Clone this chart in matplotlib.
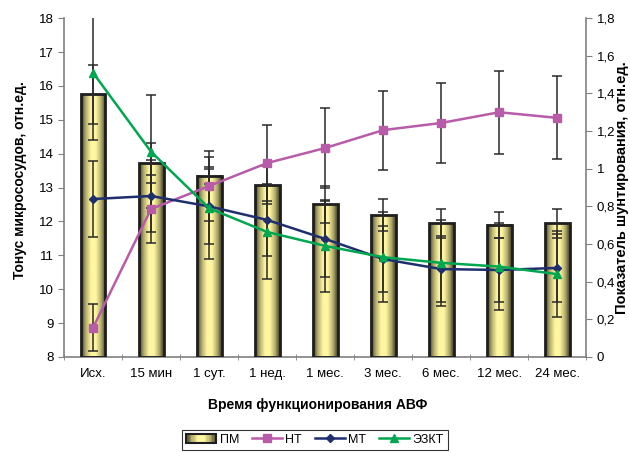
import numpy as np
import matplotlib
matplotlib.use('Agg')
import matplotlib.pyplot as plt
from matplotlib.colors import LinearSegmentedColormap
from matplotlib.patches import Rectangle
from matplotlib.legend_handler import HandlerBase
from matplotlib.ticker import FuncFormatter

plt.rcParams['font.family'] = ['Liberation Sans', 'DejaVu Sans']

categories = ['Исх.', '15 мин', '1 сут.', '1 нед.', '1 мес.', '3 мес.', '6 мес.', '12 мес.', '24 мес.']

# ПМ (left axis)
pm = [15.75, 13.72, 13.35, 13.07, 12.51, 12.19, 11.95, 11.90, 11.95]
pm_err = [0.86, 0.60, 0.25, 0.56, 0.55, 0.47, 0.43, 0.38, 0.43]

# right axis series
nt = [0.155, 0.786, 0.908, 1.03, 1.11, 1.205, 1.243, 1.30, 1.27]
nt_err = [0.125, 0.18, 0.186, 0.20, 0.21, 0.21, 0.21, 0.22, 0.22]
mt = [0.839, 0.855, 0.80, 0.728, 0.627, 0.52, 0.467, 0.462, 0.473]
mt_err = [0.20, 0.19, 0.20, 0.19, 0.20, 0.175, 0.175, 0.17, 0.18]
ezkt = [1.51, 1.09, 0.79, 0.664, 0.59, 0.53, 0.50, 0.48, 0.44]
ezkt_err = [0.36, 0.30, 0.27, 0.25, 0.245, 0.24, 0.23, 0.23, 0.23]

c_nt = '#b85ba8'
c_mt = '#1f2f6e'
c_ez = '#00a650'
c_err = '#2a2a2a'
c_axis = '#808080'

grad_cmap = LinearSegmentedColormap.from_list(
    'bar', [(0, '#3c3a28'), (0.18, '#b0aa6a'), (0.4, '#fff6a0'),
            (0.6, '#fff6a0'), (0.82, '#b0aa6a'), (1, '#3c3a28')])

fig = plt.figure(figsize=(6.3, 4.53), dpi=100)
ax = fig.add_axes([0.1016, 0.212, 0.829, 0.748])
x = np.arange(len(categories))
w = 0.43

# gradient bars
grad = np.linspace(0, 1, 64).reshape(1, -1)
for xi, v in zip(x, pm):
    ax.imshow(grad, extent=[xi - w / 2, xi + w / 2, 8, v], aspect='auto',
              cmap=grad_cmap, zorder=2, interpolation='bilinear')
ax.bar(x, [v - 8 for v in pm], bottom=8, width=w, fill=False,
       edgecolor='#1e1e1e', linewidth=2, zorder=3)
ax.errorbar(x, pm, yerr=pm_err, fmt='none', ecolor=c_err, elinewidth=1.1,
            capsize=3.5, capthick=1.1, zorder=4)

ax.set_xlim(-0.5, len(categories) - 0.5)
ax.set_ylim(8, 18)
ax.set_yticks(range(8, 19))
ax.set_xticks(x)
ax.set_xticklabels(categories)
ax.set_xticks(np.arange(-0.5, len(categories)), minor=True)
ax.tick_params(axis='x', which='major', length=0, pad=8)
ax.tick_params(axis='x', which='minor', length=5, direction='inout', color=c_axis)
ax.tick_params(axis='y', length=4, color=c_axis, direction='out')
ax.tick_params(labelsize=9.5)
for s in ['top', 'right']:
    ax.spines[s].set_visible(False)
for s in ['left', 'bottom']:
    ax.spines[s].set_color(c_axis)
    ax.spines[s].set_linewidth(1.2)

ax2 = ax.twinx()
ax2.set_ylim(0, 1.8)
ax2.set_yticks(np.arange(0, 1.81, 0.2))
ax2.yaxis.set_major_formatter(FuncFormatter(lambda v, p: ('%g' % round(v, 1)).replace('.', ',')))
ax2.tick_params(axis='y', length=4, color=c_axis, direction='out', labelsize=9.5)
for s in ['top', 'left', 'bottom']:
    ax2.spines[s].set_visible(False)
ax2.spines['right'].set_color(c_axis)
ax2.spines['right'].set_linewidth(1.2)

fig.text(20 / 630, 1 - 180 / 453, 'Тонус микрососудов, отн.ед.', rotation=90,
         ha='center', va='center', fontsize=10, fontweight='bold')
fig.text(622 / 630, 1 - 188 / 453, 'Показатель шунтирования, отн.ед.', rotation=90,
         ha='center', va='center', fontsize=10.5, fontweight='bold')
fig.text(0.505, 1 - 405 / 453, 'Время функционирования АВФ', ha='center', va='center',
         fontsize=10, fontweight='bold')

for vals, errs in [(nt, nt_err), (mt, mt_err), (ezkt, ezkt_err)]:
    ax2.errorbar(x, vals, yerr=errs, fmt='none', ecolor=c_err, elinewidth=1.1,
                 capsize=3.5, capthick=1.1, zorder=2)
l_nt, = ax2.plot(x, nt, color=c_nt, lw=1.8, marker='s', ms=6, zorder=3, label='НТ')
l_mt, = ax2.plot(x, mt, color=c_mt, lw=1.8, marker='D', ms=4, zorder=3, label='МТ')
l_ez, = ax2.plot(x, ezkt, color=c_ez, lw=1.8, marker='^', ms=6, zorder=3, label='ЭЗКТ')


class HandlerGrad(HandlerBase):
    def create_artists(self, legend, orig_handle, xdescent, ydescent,
                       width, height, fontsize, trans):
        arts = []
        n = 24
        for i in range(n):
            r = Rectangle((-xdescent + i * width / n, -ydescent), width / n + 0.2, height,
                          facecolor=grad_cmap((i + 0.5) / n), lw=0, transform=trans)
            arts.append(r)
        arts.append(Rectangle((-xdescent, -ydescent), width, height, fill=False,
                              edgecolor='#1e1e1e', lw=1.5, transform=trans))
        return arts


pm_handle = Rectangle((0, 0), 1, 1)
leg = fig.legend([pm_handle, l_nt, l_mt, l_ez], ['ПМ', 'НТ', 'МТ', 'ЭЗКТ'],
                 handler_map={Rectangle: HandlerGrad()},
                 loc='center', bbox_to_anchor=(0.5, 0.029), ncol=4, fontsize=9,
                 frameon=True, fancybox=False, edgecolor='#000000',
                 handlelength=2.4, handletextpad=0.3, columnspacing=1.0,
                 borderpad=0.3, borderaxespad=0)
leg.get_frame().set_linewidth(0.8)

fig.savefig('out.png', dpi=100)
